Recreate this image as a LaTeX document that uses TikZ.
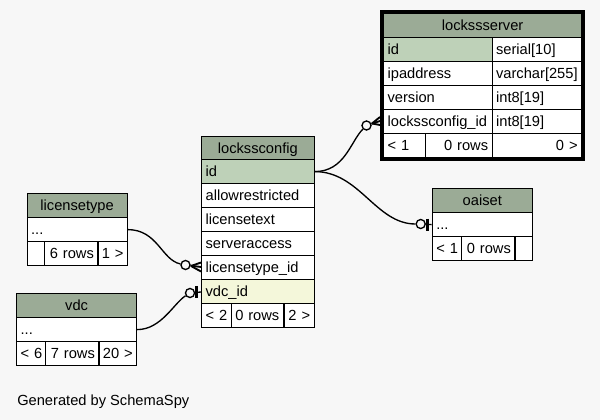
\documentclass[tikz,border=0pt]{standalone}
\usepackage{fontspec}
\setmainfont{Liberation Sans}
\usetikzlibrary{calc,fit}
\definecolor{bg}{HTML}{F7F7F7}
\definecolor{head}{HTML}{9BAB96}
\definecolor{pk}{HTML}{BED1B8}
\definecolor{idx}{HTML}{F4F7DA}
\newcommand\tcell[7]{%
 \pgfmathsetmacro\cw{(#4-#2)*0.75}%
 \pgfmathsetmacro\ch{(#5-#3)*0.75}%
 \pgfmathsetmacro\tw{(#4-#2)*0.75-6}%
 \node[tcell,#6,minimum width=\cw pt,minimum height=\ch pt,text width=\tw pt] (#1) at (#2,#3) {\mbox{#7}};}
\tikzset{
 tcell/.style={draw=black, line width=0.9pt, anchor=north west, inner xsep=3pt, inner ysep=0pt,
   text height=8pt, text depth=0pt, font=\fontsize{11}{13}\selectfont, fill=white, align=left},
 H/.style={fill=head, align=center},
 PK/.style={fill=pk},
 IX/.style={fill=idx},
 W/.style={},
 R/.style={align=right},
 rel/.style={draw=black, line width=1pt},
 crow/.style={draw=black, line width=1.4pt},
 barline/.style={draw=black, line width=2.2pt},
 odot/.style={circle, draw=black, fill=bg, line width=1pt, minimum size=6.8pt, inner sep=0pt}
}
\begin{document}
\begin{tikzpicture}[x=0.75pt,y=-0.75pt]
\useasboundingbox (0,0) rectangle (600,420);
\fill[bg] (0,0) rectangle (600,420);

% lockssserver
\tcell{srv-h}{383}{13}{581}{37}{H}{lockssserver}
\tcell{srv-id}{383}{37}{491.5}{61}{PK}{id}
\tcell{srv-idt}{491.5}{37}{581}{61}{W}{serial[10]}
\tcell{srv-ip}{383}{61}{491.5}{85}{W}{ipaddress}
\tcell{srv-ipt}{491.5}{61}{581}{85}{W}{varchar[255]}
\tcell{srv-ver}{383}{85}{491.5}{109}{W}{version}
\tcell{srv-vert}{491.5}{85}{581}{109}{W}{int8[19]}
\tcell{srv-cfg}{383}{109}{491.5}{133}{W}{lockssconfig\_id}
\tcell{srv-cfgt}{491.5}{109}{581}{133}{W}{int8[19]}
\tcell{srv-f1}{383}{133}{425}{157}{W}{< 1}
\tcell{srv-f2}{425}{133}{491.5}{157}{R}{0 rows}
\tcell{srv-f3}{491.5}{133}{581}{157}{R}{0 >}
\node[draw=black, line width=2.25pt, fit=(srv-h)(srv-f3), inner sep=1pt] (srv) {};

% lockssconfig
\tcell{cfg-h}{201}{136}{313.5}{159}{H}{lockssconfig}
\tcell{cfg-id}{201}{159}{313.5}{183}{PK}{id}
\tcell{cfg-ar}{201}{183}{313.5}{207}{W}{allowrestricted}
\tcell{cfg-lt}{201}{207}{313.5}{231}{W}{licensetext}
\tcell{cfg-sa}{201}{231}{313.5}{255}{W}{serveraccess}
\tcell{cfg-lti}{201}{255}{313.5}{279}{W}{licensetype\_id}
\tcell{cfg-vdc}{201}{279}{313.5}{303}{IX}{vdc\_id}
\tcell{cfg-f1}{201}{303}{230.7}{327}{W}{< 2}
\tcell{cfg-f2}{230.7}{303}{283.3}{327}{W}{0 rows}
\tcell{cfg-f3}{283.3}{303}{313.5}{327}{R}{2 >}

% licensetype
\tcell{lt-h}{26.5}{193}{126.5}{217}{H}{licensetype}
\tcell{lt-r}{26.5}{217}{126.5}{241}{W}{...}
\tcell{lt-f1}{26.5}{241}{44}{265}{W}{}
\tcell{lt-f2}{44}{241}{97.3}{265}{R}{6 rows}
\tcell{lt-f3}{97.3}{241}{126.5}{265}{R}{1 >}

% vdc
\tcell{vdc-h}{16}{293}{136}{317}{H}{vdc}
\tcell{vdc-r}{16}{317}{136}{341}{W}{...}
\tcell{vdc-f1}{16}{341}{45}{365}{W}{< 6}
\tcell{vdc-f2}{45}{341}{98.3}{365}{R}{7 rows}
\tcell{vdc-f3}{98.3}{341}{136}{365}{R}{20 >}

% oaiset
\tcell{oai-h}{431.7}{188}{531.7}{212}{H}{oaiset}
\tcell{oai-r}{431.7}{212}{531.7}{236}{W}{...}
\tcell{oai-f1}{431.7}{236}{461}{260}{W}{< 1}
\tcell{oai-f2}{461}{236}{514.3}{260}{R}{0 rows}
\tcell{oai-f3}{514.3}{236}{531.7}{260}{W}{}

% connector lockssconfig.id -> lockssserver.lockssconfig_id
\node[odot] (o1) at (366.5,125.5) {};
\coordinate (b1) at (380,121);
\coordinate (a1) at (372,123.5);
\draw[rel] (cfg-id.east) .. controls +(30,0) and +(-16,16) .. (o1);
\draw[crow] (o1) -- (b1);
\draw[crow] (a1) -- ($(b1)+(0,-4)$);
\draw[crow] (a1) -- ($(b1)+(0,4)$);

% connector lockssconfig.id -> oaiset
\node[odot] (o2) at (420.7,224) {};
\draw[rel] (cfg-id.east) .. controls +(45,0) and +(-45,0) .. (o2);
\draw[rel] (o2) -- (oai-r.west);
\draw[barline] ($(oai-r.west)+(-4.5,-6)$) -- ($(oai-r.west)+(-4.5,6)$);

% connector licensetype -> lockssconfig.licensetype_id
\node[odot] (o3) at (185.5,265) {};
\coordinate (b3) at (201,267);
\coordinate (a3) at (191,266);
\draw[rel] (lt-r.east) .. controls +(30,0) and +(-24,-5) .. (o3);
\draw[crow] (o3) -- (b3);
\draw[crow] (a3) -- ($(b3)+(0,-4.5)$);
\draw[crow] (a3) -- ($(b3)+(0,4.5)$);

% connector vdc -> lockssconfig.vdc_id
\node[odot] (o4) at (190,293) {};
\coordinate (b4) at (201,292);
\draw[rel] (vdc-r.east) .. controls +(24,0) and +(-16,10) .. (o4);
\draw[rel] (o4) -- (b4);
\draw[barline] ($(b4)+(-4.5,-6)$) -- ($(b4)+(-4.5,6)$);

\node[anchor=base west, inner sep=0pt, font=\fontsize{11}{13}\selectfont] (gen) at (17,405) {Generated by SchemaSpy};
\end{tikzpicture}
\end{document}
